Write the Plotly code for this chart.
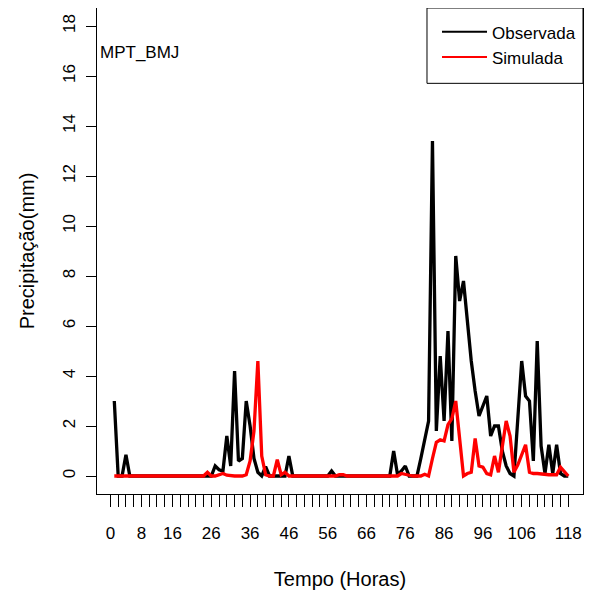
import plotly.graph_objects as go

horas = list(range(1, 119))

observada = [
    3.0, 0, 0, 0.85, 0, 0, 0, 0, 0, 0,
    0, 0, 0, 0, 0, 0, 0, 0, 0, 0,
    0, 0, 0, 0, 0, 0, 0.4, 0.25, 0.2, 1.6,
    0.4, 4.2, 0.6, 0.7, 3.0, 2.0, 0.7, 0.15, 0, 0.37,
    0, 0, 0, 0, 0, 0.8, 0, 0, 0, 0,
    0, 0, 0, 0, 0, 0, 0.2, 0, 0, 0,
    0, 0, 0, 0, 0, 0, 0, 0, 0, 0,
    0, 0, 1.0, 0.05, 0.2, 0.4, 0, 0, 0, 0.7,
    1.45, 2.2, 13.4, 1.8, 4.8, 2.2, 5.8, 1.4, 8.8, 7.0,
    7.8, 6.1, 4.6, 3.4, 2.4, 2.8, 3.2, 1.6, 2.0, 2.0,
    1.0, 0.4, 0.1, 0, 2.3, 4.6, 3.2, 3.0, 0.6, 5.4,
    1.2, 0.1, 1.25, 0.1, 1.25, 0.1, 0, 0,
]

simulada = [
    0, 0, 0, 0, 0, 0, 0, 0, 0, 0,
    0, 0, 0, 0, 0, 0, 0, 0, 0, 0,
    0, 0, 0, 0, 0.15, 0, 0, 0.05, 0.1, 0.03,
    0, 0, 0, 0, 0.05, 0.6, 1.8, 4.6, 0.8, 0.05,
    0, 0, 0.65, 0.05, 0.15, 0, 0, 0, 0, 0,
    0, 0, 0, 0, 0, 0, 0, 0, 0.05, 0.05,
    0, 0, 0, 0, 0, 0, 0, 0, 0, 0,
    0, 0, 0, 0, 0.1, 0.05, 0.03, 0, 0, 0,
    0.07, 0, 0.7, 1.35, 1.45, 1.4, 2.05, 2.3, 3.0, 1.5,
    0, 0.1, 0.15, 1.5, 0.4, 0.35, 0.1, 0.05, 0.8, 0.15,
    1.1, 2.2, 1.6, 0.15, 0.45, 0.85, 1.25, 0.15, 0.1, 0.1,
    0.08, 0.05, 0.05, 0.05, 0.05, 0.35, 0.15, 0,
]

x_labels = [0, 8, 16, 26, 36, 46, 56, 66, 76, 86, 96, 106, 118]
x_minor = list(range(0, 119, 2))
y_ticks = list(range(0, 19, 2))

fig = go.Figure()

# plotted series
fig.add_trace(go.Scatter(x=horas, y=observada, mode='lines',
                         line=dict(color='black', width=3.3), showlegend=False))
fig.add_trace(go.Scatter(x=horas, y=simulada, mode='lines',
                         line=dict(color='red', width=3.3), showlegend=False))

# legend entries (thinner lines like the R legend)
fig.add_trace(go.Scatter(x=[None], y=[None], mode='lines',
                         line=dict(color='black', width=2), name='Observada'))
fig.add_trace(go.Scatter(x=[None], y=[None], mode='lines',
                         line=dict(color='red', width=2), name='Simulada'))

fig.update_xaxes(
    range=[-3.46, 121.8],
    tickvals=x_labels,
    ticks='outside', ticklen=12, tickcolor='black',
    minor=dict(tickvals=x_minor, ticks='outside', ticklen=12, tickcolor='black'),
    ticklabelstandoff=12,
    showgrid=False, zeroline=False,
    showline=True, mirror=True, linecolor='black', linewidth=1,
    automargin=False,
    title=dict(text='Tempo (Horas)', standoff=36),
)
fig.update_yaxes(
    range=[-0.72, 18.72],
    tickvals=y_ticks,
    ticks='outside', ticklen=10, tickcolor='black',
    tickangle=-90,
    ticklabelstandoff=4,
    showgrid=False, zeroline=False,
    showline=True, mirror=True, linecolor='black', linewidth=1,
    automargin=False,
    title=dict(text='Precipitação(mm)', standoff=20),
)

fig.add_annotation(text='MPT_BMJ', x=0, y=0.908, xref='paper', yref='paper',
                   xanchor='left', yanchor='middle', xshift=1, showarrow=False,
                   font=dict(size=17))

# legend frame
fig.add_shape(type='rect', xref='paper', yref='paper',
              x0=0.679, x1=1.0, y0=0.845, y1=1.0,
              line=dict(color='black', width=1), fillcolor='white', layer='below')

# the page body adds an 8px offset, so the figure is sized to fit inside it
fig.update_layout(
    width=584, height=582,
    margin=dict(l=89, r=9, t=0, b=96),
    paper_bgcolor='white', plot_bgcolor='white',
    font=dict(family='Liberation Sans, Arial, sans-serif', size=17, color='black'),
    legend=dict(x=0.6996, y=0.987, xanchor='left', yanchor='top',
                borderwidth=0, bgcolor='rgba(0,0,0,0)', itemwidth=45,
                font=dict(size=17)),
)

fig.write_html("out.html")
